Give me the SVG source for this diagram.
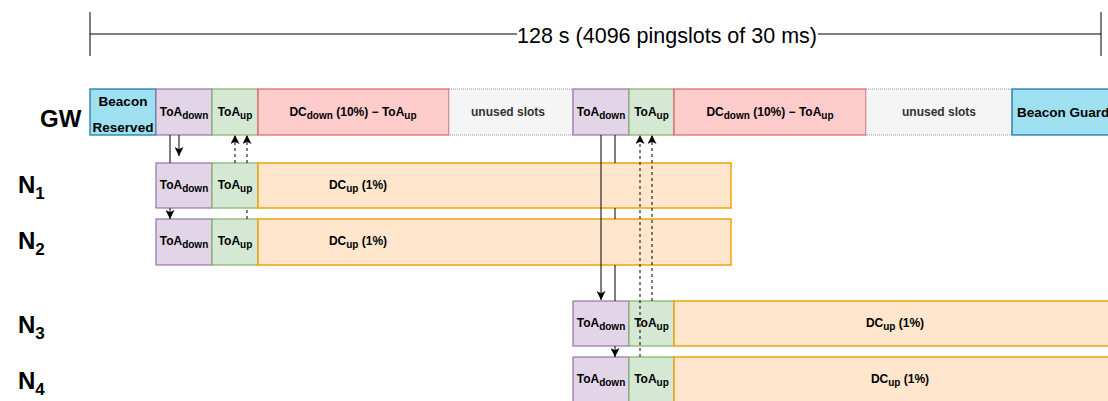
<svg xmlns="http://www.w3.org/2000/svg" width="1108" height="401" viewBox="0 0 1108 401">
<style>
text{font-family:"Liberation Sans",Arial,sans-serif;fill:#000}
.b{font-weight:bold;font-size:12px}
.big{font-size:13.5px}
.sub{font-size:10px}
.lab{font-weight:bold;font-size:24px}
.lsub{font-size:17px}
.blue{fill:#9edff0;stroke:#10739e;stroke-width:1.2}
.purple{fill:#e1d5e7;stroke:#9673a6;stroke-width:1.2}
.green{fill:#d5e8d4;stroke:#82b366;stroke-width:1.2}
.red{fill:#ffcccc;stroke:#e06060;stroke-width:1.2}
.gray{fill:#f5f5f5;stroke:#999;stroke-width:1;stroke-dasharray:1 1}
.orange{fill:#ffe6cc;stroke:#f0a30a;stroke-width:1.5}
.g{fill:#333}
.line{stroke:#000;stroke-width:1;fill:none}
.dash{stroke:#000;stroke-width:1;fill:none;stroke-dasharray:3 3}
</style>
<defs>
<marker id="ah" viewBox="0 0 10 10" refX="10" refY="5" markerWidth="9" markerHeight="9" markerUnits="userSpaceOnUse" orient="auto">
<path d="M0,0 L10,5 L0,10 L2.5,5 Z" fill="#000"/>
</marker>
</defs>

<g id="timeline">
<line class="line" x1="90" y1="12" x2="90" y2="56"/>
<line class="line" x1="1101" y1="12" x2="1101" y2="56"/>
<line class="line" x1="90" y1="34" x2="517" y2="34"/>
<line class="line" x1="818" y1="34" x2="1101" y2="34"/>
<text x="667" y="43" text-anchor="middle" style="font-size:21.5px">128 s (4096 pingslots of 30 ms)</text>
</g>

<g id="labels">
<text class="lab" x="40" y="127">GW</text>
<text class="lab" x="18" y="193">N<tspan class="lsub" dy="6">1</tspan></text>
<text class="lab" x="18" y="249">N<tspan class="lsub" dy="6">2</tspan></text>
<text class="lab" x="18" y="333">N<tspan class="lsub" dy="6">3</tspan></text>
<text class="lab" x="18" y="389">N<tspan class="lsub" dy="6">4</tspan></text>
</g>

<g id="gw">
<rect class="blue" x="90" y="89" width="66" height="46"/>
<text class="b big" x="123" y="106" text-anchor="middle">Beacon</text>
<text class="b big" x="123" y="132" text-anchor="middle">Reserved</text>
<rect class="purple" x="156" y="89" width="56" height="46"/>
<text class="b" x="184" y="116" text-anchor="middle">ToA<tspan class="sub" dy="3">down</tspan></text>
<rect class="green" x="212" y="89" width="46" height="46"/>
<text class="b" x="235" y="116" text-anchor="middle">ToA<tspan class="sub" dy="3">up</tspan></text>
<rect class="red" x="258" y="89" width="191" height="46"/>
<text class="b" x="353" y="116" text-anchor="middle">DC<tspan class="sub" dy="3">down</tspan><tspan dy="-3"> (10%) − ToA</tspan><tspan class="sub" dy="3">up</tspan></text>
<rect class="gray" x="449" y="89" width="124" height="46"/>
<text class="b g" x="508" y="116" text-anchor="middle">unused slots</text>
<rect class="purple" x="573" y="89" width="56" height="46"/>
<text class="b" x="601" y="116" text-anchor="middle">ToA<tspan class="sub" dy="3">down</tspan></text>
<rect class="green" x="629" y="89" width="45" height="46"/>
<text class="b" x="651.5" y="116" text-anchor="middle">ToA<tspan class="sub" dy="3">up</tspan></text>
<rect class="red" x="674" y="89" width="192" height="46"/>
<text class="b" x="770" y="116" text-anchor="middle">DC<tspan class="sub" dy="3">down</tspan><tspan dy="-3"> (10%) − ToA</tspan><tspan class="sub" dy="3">up</tspan></text>
<rect class="gray" x="866" y="89" width="146" height="46"/>
<text class="b g" x="939" y="116" text-anchor="middle">unused slots</text>
<rect class="blue" x="1012" y="89" width="110" height="46"/>
<text class="b big" x="1017" y="117">Beacon Guard</text>
</g>

<g id="n1">
<rect class="purple" x="156" y="163" width="56" height="45"/>
<text class="b" x="184" y="189" text-anchor="middle">ToA<tspan class="sub" dy="3">down</tspan></text>
<rect class="green" x="212" y="163" width="46" height="45"/>
<text class="b" x="235" y="189" text-anchor="middle">ToA<tspan class="sub" dy="3">up</tspan></text>
<rect class="orange" x="258" y="163" width="473" height="45"/>
<text class="b" x="358" y="189" text-anchor="middle">DC<tspan class="sub" dy="3">up</tspan><tspan dy="-3"> (1%)</tspan></text>
</g>

<g id="n2">
<rect class="purple" x="156" y="219" width="56" height="46"/>
<text class="b" x="184" y="245" text-anchor="middle">ToA<tspan class="sub" dy="3">down</tspan></text>
<rect class="green" x="212" y="219" width="46" height="46"/>
<text class="b" x="235" y="245" text-anchor="middle">ToA<tspan class="sub" dy="3">up</tspan></text>
<rect class="orange" x="258" y="219" width="473" height="46"/>
<text class="b" x="358" y="245" text-anchor="middle">DC<tspan class="sub" dy="3">up</tspan><tspan dy="-3"> (1%)</tspan></text>
</g>

<g id="n3">
<rect class="purple" x="573" y="301" width="56" height="45"/>
<text class="b" x="601" y="327" text-anchor="middle">ToA<tspan class="sub" dy="3">down</tspan></text>
<rect class="green" x="629" y="301" width="45" height="45"/>
<text class="b" x="651.5" y="327" text-anchor="middle">ToA<tspan class="sub" dy="3">up</tspan></text>
<rect class="orange" x="674" y="301" width="450" height="45"/>
<text class="b" x="895" y="327" text-anchor="middle">DC<tspan class="sub" dy="3">up</tspan><tspan dy="-3"> (1%)</tspan></text>
</g>

<g id="n4">
<rect class="purple" x="573" y="357" width="56" height="50"/>
<text class="b" x="601" y="383" text-anchor="middle">ToA<tspan class="sub" dy="3">down</tspan></text>
<rect class="green" x="629" y="357" width="45" height="50"/>
<text class="b" x="651.5" y="383" text-anchor="middle">ToA<tspan class="sub" dy="3">up</tspan></text>
<rect class="orange" x="674" y="357" width="450" height="50"/>
<text class="b" x="900" y="383" text-anchor="middle">DC<tspan class="sub" dy="3">up</tspan><tspan dy="-3"> (1%)</tspan></text>
</g>

<g id="connectors">
<path class="line" d="M179,135 V156" marker-end="url(#ah)"/>
<path class="line" d="M170,135 V163 M170,208 V219" marker-end="url(#ah)"/>
<path class="dash" d="M235,163 V135" marker-end="url(#ah)"/>
<path class="dash" d="M247,219 V208 M247,163 V135" marker-end="url(#ah)"/>
<path class="line" d="M601,135 V300" marker-end="url(#ah)"/>
<path class="line" d="M615,135 V163 M615,208 V219 M615,265 V301 M615,346 V357" marker-end="url(#ah)"/>
<path class="dash" d="M640,357 V135" marker-end="url(#ah)"/>
<path class="dash" d="M652,301 V135" marker-end="url(#ah)"/>
</g>
</svg>
